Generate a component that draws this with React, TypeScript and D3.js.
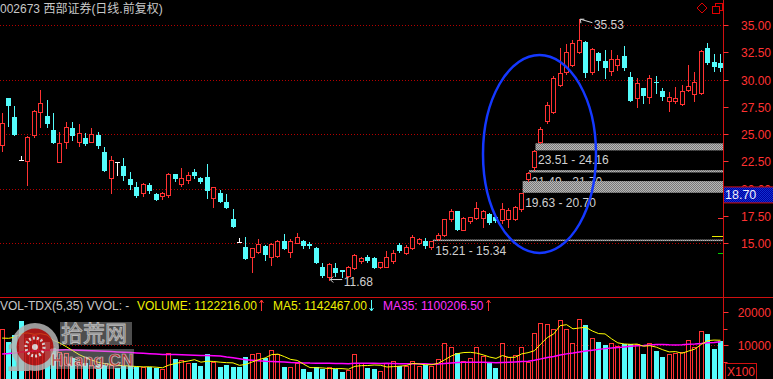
import React from "react";
import * as d3 from "d3";

// ---------- data ----------
const titleText = "002673 西部证券(日线.前复权)";

const openPrice = [
  24.01, 28.28, 26.6, 22.63, 22.57, 24.92, 27.06, 26.66, 25.38, 22.48,
  24.31, 25.54, 24.31, 24.62, 24.31, 24.92, 23.39, 20.96, 22.45, 22.08,
  20.92, 20.13, 19.58, 20.31, 19.49, 19.33, 19.42, 21.32, 20.43, 20.8,
  21.56, 21.0, 21.1, 19.12, 19.58, 18.76, 17.23, 15.12, 14.69, 13.72,
  14.23, 14.75, 13.77, 13.84, 15.21, 14.23, 15.06, 15.21, 14.93, 14.6,
  12.8, 11.94, 12.71, 12.52, 12.0, 12.71, 13.41, 13.78, 13.63, 12.8,
  12.8, 13.41, 14.84, 14.14, 14.54, 15.06, 15.21, 14.63, 15.4, 15.76,
  17.2, 17.96, 16.22, 17.07, 17.29, 17.29, 17.66, 17.44, 17.13, 17.23,
  17.23, 18.11, 20.86, 22.0, 24.3, 26.2, 27.03, 29.5, 30.7, 31.35,
  32.55, 33.47, 30.72, 32.46, 31.7, 30.81, 31.34, 32.16, 30.26, 28.28,
  29.2, 28.43, 29.8, 28.95, 28.07, 28.07, 27.76, 29.04, 28.68, 28.8,
  32.87, 31.64, 31.55,
];
const highPrice = [
  26.91, 28.3, 27.58, 23.0, 24.8, 27.2, 29.04, 28.13, 26.97, 25.22,
  26.14, 26.14, 25.93, 25.08, 25.59, 25.22, 23.85, 23.0, 22.45, 22.79,
  21.51, 20.64, 20.5, 20.5, 19.65, 19.7, 21.45, 21.35, 21.87, 21.56,
  21.77, 21.1, 22.27, 20.2, 19.88, 19.52, 18.11, 15.49, 15.6, 14.6,
  15.37, 14.8, 15.0, 15.3, 15.85, 15.37, 15.97, 15.3, 15.12, 14.7,
  13.22, 13.17, 13.2, 12.52, 12.9, 14.0, 13.7, 13.9, 13.7, 13.3,
  14.32, 14.4, 15.0, 14.8, 15.76, 15.5, 15.45, 15.21, 15.95, 17.25,
  18.1, 18.0, 17.4, 17.45, 18.81, 18.05, 17.75, 17.6, 18.67, 18.2,
  18.42, 19.63, 21.49, 23.51, 25.7, 27.9, 30.3, 32.87, 33.3, 33.6,
  35.53, 33.5, 32.9, 32.55, 32.71, 32.71, 32.25, 33.08, 30.72, 30.12,
  29.2, 30.42, 30.3, 29.2, 28.89, 29.35, 29.5, 31.34, 30.72, 32.7,
  33.38, 32.34, 32.34,
];
const lowPrice = [
  23.48, 25.75, 24.92, 22.63, 20.34, 24.71, 25.68, 25.68, 24.16, 22.48,
  23.7, 24.46, 23.91, 24.0, 24.3, 23.7, 21.65, 19.58, 21.26, 20.8,
  19.95, 19.21, 19.3, 19.6, 18.95, 19.1, 19.2, 20.7, 20.25, 20.5,
  21.0, 20.56, 19.12, 18.35, 18.8, 18.2, 16.52, 15.12, 13.53, 12.4,
  14.07, 13.47, 13.01, 13.7, 14.45, 13.77, 15.0, 14.54, 14.54, 13.2,
  11.94, 11.68, 12.0, 11.9, 11.9, 12.65, 13.2, 13.3, 12.7, 12.7,
  12.8, 13.2, 14.23, 14.0, 14.45, 14.9, 14.6, 14.5, 15.34, 15.7,
  17.0, 16.2, 16.2, 16.85, 17.2, 16.47, 16.8, 16.95, 16.9, 16.52,
  17.1, 18.0, 20.7, 21.7, 24.16, 26.0, 26.9, 29.4, 30.5, 31.2,
  32.45, 30.26, 30.5, 30.88, 30.12, 30.4, 30.88, 30.88, 28.07, 27.46,
  27.88, 27.88, 28.74, 28.13, 27.15, 27.88, 27.67, 28.98, 28.07, 28.7,
  31.43, 30.81, 30.81,
];
const closePrice = [
  25.99, 27.67, 25.01, 22.63, 24.77, 27.15, 27.88, 26.0, 24.31, 24.16,
  25.63, 24.92, 25.08, 24.16, 24.99, 24.01, 21.72, 22.63, 22.45, 21.26,
  20.43, 19.42, 20.43, 19.88, 19.03, 19.64, 21.35, 20.96, 21.01, 21.26,
  21.26, 20.73, 19.88, 20.13, 18.9, 18.3, 16.58, 15.12, 13.63, 14.54,
  14.91, 14.02, 14.91, 15.21, 14.6, 15.21, 15.55, 14.84, 14.82, 13.31,
  12.1, 13.1, 12.4, 12.47, 12.8, 13.93, 13.63, 13.47, 12.8, 13.26,
  13.78, 14.08, 14.39, 14.69, 15.61, 15.37, 14.84, 15.21, 15.8, 17.2,
  17.99, 16.28, 17.29, 17.38, 18.2, 17.99, 16.98, 17.13, 18.11, 18.05,
  18.35, 19.6, 21.47, 23.45, 25.5, 27.67, 30.14, 30.6, 32.5, 33.35,
  33.63, 30.72, 32.77, 31.79, 31.18, 31.86, 31.86, 31.12, 28.13, 29.66,
  28.59, 30.12, 29.75, 28.5, 28.43, 28.34, 28.98, 29.41, 29.81, 32.64,
  31.64, 31.24, 31.18,
];
// volume in units of 100 shares
const volume = [
  15000, 11000, 13000, 17200, 12000, 13000, 12000, 11000, 9000, 8000,
  7500, 6000, 5000, 4500, 4000, 4200, 4000, 4000, 3000, 3500,
  3500, 3400, 3400, 3200, 2900, 2600, 7500, 5700, 5400, 4500,
  4650, 3740, 7170, 4950, 3430, 3940, 3430, 3430, 6360, 7170,
  7470, 5960, 8380, 7170, 3430, 3230, 4450, 2730, 1920, 3330,
  2830, 3430, 2730, 1920, 2420, 7170, 4450, 2930, 2730, 2020,
  4500, 5050, 3640, 3640, 5250, 3640, 3940, 3640, 5860, 10500,
  9290, 7680, 5250, 6160, 9290, 6670, 4440, 3130, 10500, 6460,
  6970, 9490, 4950, 13500, 16800, 16500, 15000, 17500, 15000, 10500,
  17800, 16000, 12000, 11000, 10000, 10500, 9700, 10400, 10400, 10400,
  7270, 10500, 8180, 6460, 7170, 7680, 7980, 11500, 9400, 14340,
  13430, 8790, 11222,
];
// moving averages at the first visible bar
const ma5AtFirstBar = 12100;
const ma35AtFirstBar = 7300;

const priceTicks = [35, 32.5, 30, 27.5, 25, 22.5, 20, 17.5, 15];
const priceGrid = [35, 30, 25, 20, 15];
const volumeTicks = [20000, 10000];
const volumeMinorTicks = [15000, 5000];
const volumeGrid = [10000];

const gapStart = [67, 81, 82, 83];
const gapLow = [15.21, 19.63, 21.49, 23.51];
const gapHigh = [15.34, 20.7, 21.7, 24.16];

const extremeIndex = [90, 51];
const extremeValue = [35.53, 11.68];

const cursorPrice = 18.7;
const sidePrices = [17.29, 15.64, 14.08];
const sideColors = ["#ff3232", "#e8e800", "#00d000"];
const sideLengths = [5, 11, 5];

const volText = "1122216.00";
const ma5Text = "1142467.00";
const ma35Text = "1100206.50";

// ---------- style ----------
const RED = "#ff3232";
const CYAN = "#54fcfc";
const GRID = "#b40000";
const FONT = "'Liberation Sans', Arial, 'Noto Sans CJK SC', sans-serif";

export default function App() {
  const n = closePrice.length;
  const xBand = d3
    .scaleBand<number>()
    .domain(d3.range(n))
    .range([-1.1, 723.7])
    .paddingInner(0)
    .paddingOuter(0);
  const step = xBand.step();
  const xc = (i: number) => (xBand(i) ?? 0) + step / 2;
  const yP = d3.scaleLinear().domain([15, 35]).range([243.3, 25]);
  const yV = d3.scaleLinear().domain([0, 20000]).range([378, 312]);

  const movingAvg = (period: number, first: number) => {
    const prior = (first * period - volume[0]) / (period - 1);
    return volume.map((_, i) => {
      let s = 0;
      for (let k = i - period + 1; k <= i; k++) s += k >= 0 ? volume[k] : prior;
      return s / period;
    });
  };
  const ma5 = movingAvg(5, ma5AtFirstBar);
  const ma35 = movingAvg(35, ma35AtFirstBar);
  const line = d3
    .line<number>()
    .x((_, i) => xc(i))
    .y((d) => yV(d));

  const AX = 723.5;

  const candles = d3.range(n).map((i) => {
    const o = openPrice[i], c = closePrice[i], h = highPrice[i], l = lowPrice[i];
    const xl = Math.round(xc(i) - 2.5);
    const wx = xl + 2.5;
    const yh = Math.round(yP(h));
    const yl = Math.round(yP(l));
    const yt = Math.round(yP(Math.max(o, c)));
    const yb = Math.round(yP(Math.min(o, c)));
    if (c > o) {
      return (
        <g key={i}>
          {yh < yt && <line x1={wx} x2={wx} y1={yh} y2={yt} stroke={RED} />}
          {yb < yl && <line x1={wx} x2={wx} y1={yb} y2={yl + 1} stroke={RED} />}
          <rect x={xl + 0.5} y={yt + 0.5} width={4} height={Math.max(yb - yt, 1)} fill="#000" stroke={RED} />
        </g>
      );
    }
    if (c < o) {
      return (
        <g key={i}>
          <line x1={wx} x2={wx} y1={yh} y2={yl + 1} stroke={CYAN} />
          <rect x={xl} y={yt} width={5} height={Math.max(yb - yt + 1, 1)} fill={CYAN} />
        </g>
      );
    }
    return (
      <g key={i}>
        <line x1={wx} x2={wx} y1={yh} y2={yl + 1} stroke="#ffffff" />
        <rect x={xl} y={yt} width={5} height={1} fill="#ffffff" />
      </g>
    );
  });

  const volBars = d3.range(n).map((i) => {
    const o = openPrice[i], c = closePrice[i];
    const up = c > o || (c === o && i > 0 && c >= closePrice[i - 1]);
    const xl = Math.round(xc(i) - 2.5);
    const top = Math.round(yV(volume[i]));
    return up ? (
      <rect key={i} x={xl + 0.5} y={top + 0.5} width={4} height={381 - top} fill="#000" stroke={RED} />
    ) : (
      <rect key={i} x={xl} y={top} width={5} height={381 - top} fill={CYAN} />
    );
  });

  const arrowUp = (x: number, color: string) => (
    <path d={`M${x},311 L${x},300 M${x - 2},303 L${x},300 L${x + 2},303`} stroke={color} fill="none" strokeWidth={1} />
  );
  const arrowDown = (x: number, color: string) => (
    <path d={`M${x},300 L${x},311 M${x - 2},308 L${x},311 L${x + 2},308`} stroke={color} fill="none" strokeWidth={1} />
  );

  return (
    <svg
      width={773}
      height={379}
      viewBox="0 0 773 379"
      style={{ position: "fixed", left: 0, top: 0, display: "block", background: "#000" }}
      fontFamily={FONT}
    >
      <defs>
        <pattern id="dith" width={2} height={2} patternUnits="userSpaceOnUse">
          <rect width={2} height={2} fill="#b8b8b8" />
          <rect width={1} height={1} fill="#787878" />
          <rect x={1} y={1} width={1} height={1} fill="#787878" />
        </pattern>
        <pattern id="navy" width={2} height={2} patternUnits="userSpaceOnUse">
          <rect width={2} height={2} fill="#0000a0" />
          <rect width={1} height={1} fill="#1030d0" />
          <rect x={1} y={1} width={1} height={1} fill="#1030d0" />
        </pattern>
        <clipPath id="priceClip">
          <rect x={0} y={0} width={723} height={297} />
        </clipPath>
        <clipPath id="volClip">
          <rect x={0} y={298} width={723} height={81} />
        </clipPath>
      </defs>
      <rect x={0} y={0} width={773} height={379} fill="#000" />

      {/* price grid */}
      {priceGrid.map((v) => (
        <line key={v} x1={0} x2={723} y1={Math.round(yP(v)) + 0.5} y2={Math.round(yP(v)) + 0.5} stroke={GRID} strokeDasharray="1,2" />
      ))}

      {/* title */}
      <text x={0} y={12.5} fontSize={12} fill="#c8c8c8">{titleText}</text>

      <g clipPath="url(#priceClip)">
        {/* gap labels */}
        {gapStart.map((s, k) => (
          <text key={"gl" + k} x={xc(s) + 3.5} y={yP(gapLow[k]) + 14} fontSize={12} fill="#d0d0d0">
            {gapLow[k].toFixed(2) + " - " + gapHigh[k].toFixed(2)}
          </text>
        ))}
        {/* gap bands */}
        {gapStart.map((s, k) => {
          const y1 = yP(gapHigh[k]);
          const y2 = yP(gapLow[k]);
          return (
            <rect key={"gb" + k} x={xc(s) + 1} y={y1} width={723 - xc(s) - 1} height={Math.max(y2 - y1, 1.5)} fill="url(#dith)" />
          );
        })}
        {candles}

        {/* extreme markers */}
        {extremeIndex.map((idx, k) => {
          const tx = xc(idx) + 1;
          const ty = yP(extremeValue[k]);
          const isHigh = k === 0;
          return (
            <g key={"ex" + k}>
              {isHigh ? (
                <path d={`M${tx},${ty} L${tx + 12},${ty + 3.5} M${tx},${ty} L${tx + 4},${ty} M${tx},${ty} L${tx + 0.5},${ty + 4}`} stroke="#d8d8d8" fill="none" />
              ) : (
                <path d={`M${tx},${ty} L${tx + 12},${ty} M${tx},${ty} L${tx + 3},${ty - 3} M${tx},${ty} L${tx + 3},${ty + 3}`} stroke="#d8d8d8" fill="none" />
              )}
              <text x={tx + 13.5} y={ty + (isHigh ? 10 : 6)} fontSize={12} fill="#d0d0d0">
                {extremeValue[k].toFixed(2)}
              </text>
            </g>
          );
        })}

        {/* side markers */}
        {sidePrices.map((p, k) => (
          <line key={"sm" + k} x1={723 - sideLengths[k]} x2={723} y1={Math.round(yP(p)) + 0.5} y2={Math.round(yP(p)) + 0.5} stroke={sideColors[k]} />
        ))}

        {/* highlight ellipse */}
        <ellipse cx={539.5} cy={154} rx={56.5} ry={99} fill="none" stroke="#1438ff" strokeWidth={2.5} />
      </g>

      {/* axes frame */}
      <line x1={AX} x2={AX} y1={0} y2={379} stroke="#d01010" />
      <line x1={0} x2={773} y1={297.5} y2={297.5} stroke="#d01010" />

      {/* price axis */}
      {priceTicks.map((v) => {
        const y = Math.round(yP(v)) + 0.5;
        return (
          <g key={"pt" + v}>
            <line x1={AX} x2={AX + 5} y1={y} y2={y} stroke={RED} />
            <text x={771} y={y + 4.5} fontSize={12} fill={RED} textAnchor="end">
              {v.toFixed(2)}
            </text>
          </g>
        );
      })}
      {/* cursor price */}
      <rect x={AX} y={yP(cursorPrice) - 16} width={50} height={16} fill="url(#navy)" stroke="#d01010" />
      <text x={725} y={yP(cursorPrice) - 3.5} fontSize={12.5} fill="#f0f0ff">
        {cursorPrice.toFixed(2)}
      </text>

      {/* top-right icons */}
      <path d="M702,3 L707,8 L702,13 L697,8 Z" fill="none" stroke="#e00000" />
      <rect x={715.5} y={3.5} width={7} height={7} fill="none" stroke="#e00000" />
      <rect x={712.5} y={6.5} width={7} height={7} fill="#000" stroke="#e00000" />

      {/* volume panel */}
      {volumeGrid.map((v) => (
        <line key={"vg" + v} x1={0} x2={723} y1={Math.round(yV(v)) + 0.5} y2={Math.round(yV(v)) + 0.5} stroke={GRID} strokeDasharray="1,2" />
      ))}
      <g clipPath="url(#volClip)">
        {volBars}
        <path d={line(ma35) ?? ""} fill="none" stroke="#ff00ff" strokeWidth={1.5} />
        <path d={line(ma5) ?? ""} fill="none" stroke="#ffff00" strokeWidth={1} />
      </g>
      {volumeTicks.map((v) => {
        const y = Math.round(yV(v)) + 0.5;
        return (
          <g key={"vt" + v}>
            <line x1={AX} x2={AX + 5} y1={y} y2={y} stroke={RED} />
            <text x={771} y={y + 4.5} fontSize={12} fill={RED} textAnchor="end">
              {v}
            </text>
          </g>
        );
      })}
      {volumeMinorTicks.map((v) => {
        const y = Math.round(yV(v)) + 0.5;
        return <line key={"vm" + v} x1={AX} x2={AX + 4} y1={y} y2={y} stroke={RED} />;
      })}
      <rect x={725.5} y={363.5} width={31} height={17} fill="none" stroke="#d01010" />
      <text x={727} y={375.5} fontSize={12} fill={RED}>X100</text>

      {/* volume header */}
      <text x={0} y={310} fontSize={12} fill="#c8c8c8">VOL-TDX(5,35) VVOL: -</text>
      <text x={137} y={310} fontSize={12} fill="#f0f000">{"VOLUME: " + volText}</text>
      {arrowUp(261.5, RED)}
      <text x={273} y={310} fontSize={12} fill="#f0f000">{"MA5: " + ma5Text}</text>
      {arrowDown(371.5, CYAN)}
      <text x={383} y={310} fontSize={12} fill="#ff30ff">{"MA35: " + ma35Text}</text>
      {arrowUp(488.5, RED)}

      {/* watermark logo */}
      <g opacity={0.85}>
        <text x={6} y={371} fontSize={44} fontWeight="bold" fill="#b4b4b4">1</text>
        <circle cx={35} cy={347} r={24} fill="#b4b4b4" />
        <circle cx={35} cy={347} r={18.5} fill="#c41c1c" />
        <circle cx={35} cy={347} r={9} fill="none" stroke="#f0f0f0" strokeWidth={3} strokeDasharray="2,2" />
        <circle cx={35} cy={347} r={3} fill="#f0f0f0" />
        <rect x={60} y={322} width={72} height={23} fill="#a8a8a8" opacity={0.55} />
        <text x={61} y={341} fontSize={22} fill="#8c8c8c" stroke="#dcdcdc" strokeWidth={0.8} fontFamily="'Noto Sans CJK SC', sans-serif">拾荒网</text>
        <rect x={50} y={349} width={84} height={20} fill="#c8c8c8" opacity={0.45} />
        <text x={51} y={366} fontSize={17} fontWeight="bold" fill="#c83232" stroke="#e4e4e4" strokeWidth={0.7}>Huang.CN</text>
      </g>
    </svg>
  );
}
